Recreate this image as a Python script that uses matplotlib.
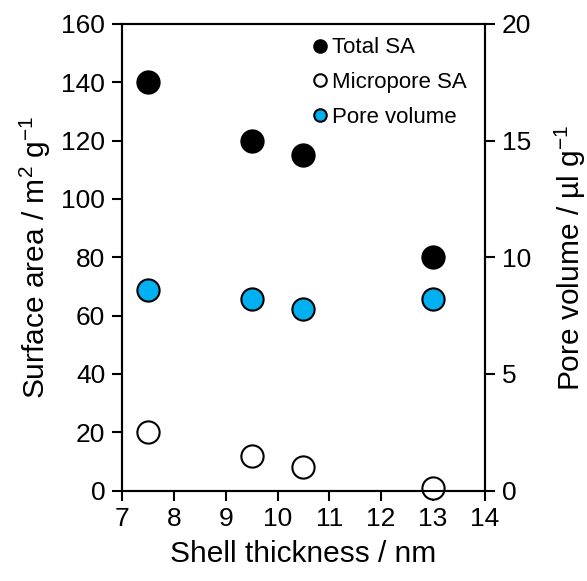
import matplotlib
matplotlib.use("Agg")
import matplotlib.pyplot as plt
from matplotlib.lines import Line2D

plt.rcParams['font.family'] = ['Liberation Sans', 'DejaVu Sans']
plt.rcParams['mathtext.fontset'] = 'custom'
plt.rcParams['mathtext.rm'] = 'Liberation Sans'
plt.rcParams['mathtext.it'] = 'Liberation Sans'

# data
thickness = [7.5, 9.5, 10.5, 13]
total_sa = [140, 120, 115, 80]
micro_sa = [20, 12, 8, 1]
pore_vol = [8.6, 8.2, 7.8, 8.2]

blue = '#00B0F0'
ms = 16

fig = plt.figure(figsize=(5.87, 5.81), dpi=100)
ax = fig.add_axes([0.2078, 0.1555, 0.6182, 0.8032])
ax2 = ax.twinx()

ax.plot(thickness, total_sa, 'o', ms=ms, color='black', mec='black', mew=1.5, zorder=3, clip_on=False)
ax.plot(thickness, micro_sa, 'o', ms=ms, color='white', mec='black', mew=1.5, zorder=3, clip_on=False)
ax2.plot(thickness, pore_vol, 'o', ms=ms, color=blue, mec='black', mew=1.5, zorder=3, clip_on=False)

ax.set_xlim(7, 14)
ax.set_ylim(0, 160)
ax2.set_ylim(0, 20)
ax.set_xticks(range(7, 15))
ax.set_yticks(range(0, 161, 20))
ax2.set_yticks(range(0, 21, 5))

for a in (ax, ax2):
    for s in a.spines.values():
        s.set_linewidth(1.5)
    a.tick_params(labelsize=19, width=1.5, length=7, direction='out', pad=5)

ax.set_xlabel('Shell thickness / nm', fontsize=21.5, labelpad=6)
ax.set_ylabel('Surface area / m$^\\mathrm{2}$ g$^\\mathrm{-1}$', fontsize=21.5, labelpad=6)
ax2.set_ylabel('Pore volume / µl g$^\\mathrm{-1}$', fontsize=21.5, labelpad=16)

handles = [
    Line2D([], [], ls='', marker='o', ms=9, color='black', mec='black', mew=1.5),
    Line2D([], [], ls='', marker='o', ms=9, color='white', mec='black', mew=1.5),
    Line2D([], [], ls='', marker='o', ms=9, color=blue, mec='black', mew=1.5),
]
ax.legend(handles, ['Total SA', 'Micropore SA', 'Pore volume'], loc='upper left',
          bbox_to_anchor=(0.478, 1.0), frameon=False, fontsize=16, handletextpad=0.05,
          handlelength=1.0, labelspacing=0.62, borderaxespad=0.2)

fig.savefig('out.png', dpi=100)
